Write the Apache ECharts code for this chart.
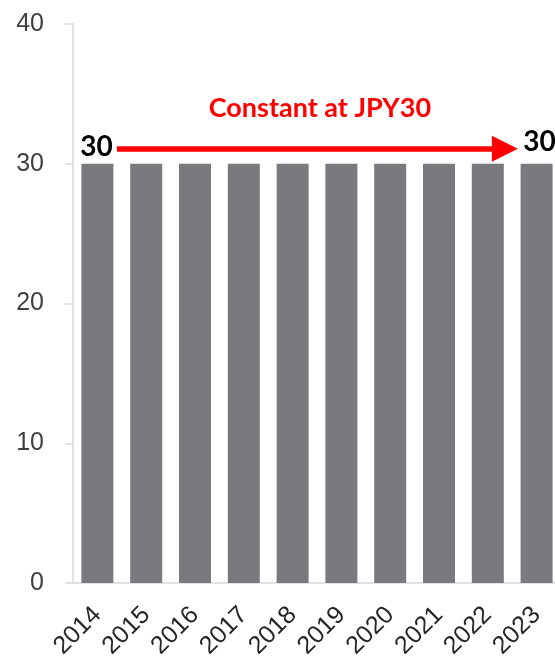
<!DOCTYPE html>
<html><head><meta charset="utf-8">
<script src="https://cdn.jsdelivr.net/npm/echarts@6/dist/echarts.min.js"></script>
<style>html,body{margin:0;padding:0;background:#fff}#c{width:555px;height:662px}</style>
</head><body><div id="c"></div>
<script>
const years = ['2014','2015','2016','2017','2018','2019','2020','2021','2022','2023'];
const dividend = [30,30,30,30,30,30,30,30,30,30];
const yTicks = {min:0, max:40, interval:10};
const annotation = 'Constant at JPY30';
const arrowFrom = 0.4, arrowTo = 8.35; // arrow ends, in category index units
const arrowLevel = 31.07;

const chart = echarts.init(document.getElementById('c'), null, {renderer:'canvas'});
const dataItems = dividend.map((v,i)=>{
  const item = {value:v};
  if (i===0) item.label = {show:true, position:'top', distance:3, offset:[-1,0]};
  if (i===dividend.length-1) item.label = {show:true, position:'top', distance:10, offset:[3,2]};
  return item;
});
chart.setOption({
  animation:false,
  grid:{left:73, top:24, width:488, height:559, outerBoundsMode:'none', containLabel:false},
  xAxis:[{type:'category', data:years,
    axisLine:{onZero:false, lineStyle:{color:'#d9d9d9', width:1.5}},
    axisTick:{show:false},
    axisLabel:{rotate:45, fontSize:25, color:'#262626', margin:28, fontFamily:'Liberation Sans', interval:0}
  },{type:'value', min:-0.5, max:years.length-0.5, show:false}],
  yAxis:{type:'value', min:yTicks.min, max:yTicks.max, interval:yTicks.interval,
    axisLine:{show:true, onZero:false, lineStyle:{color:'#d9d9d9', width:1.5}},
    axisTick:{show:true, length:8, lineStyle:{color:'#d9d9d9', width:1.5}},
    splitLine:{show:false},
    axisLabel:{fontSize:25, color:'#404040', margin:29, fontFamily:'Liberation Sans'}
  },
  series:[{type:'bar', data:dataItems, barWidth:32,
    itemStyle:{color:'#7a7a7e'},
    label:{show:false, formatter:'{c}', color:'#000', fontSize:28, fontWeight:'bold', fontFamily:'Lato'}
  },{type:'line', xAxisIndex:1, data:[], 
    markLine:{silent:true, symbol:['none','triangle'], symbolSize:[26,26],
      lineStyle:{color:'#ff0000', width:5.5, type:'solid'},
      label:{show:true, position:'middle', formatter:annotation, color:'#ff0000', fontSize:27, fontWeight:'bold', fontFamily:'Lato', distance:27, padding:[0,0,0,18]},
      data:[[{coord:[arrowFrom, arrowLevel]},{coord:[arrowTo, arrowLevel]}]]
    }
  }]
});
</script></body></html>
